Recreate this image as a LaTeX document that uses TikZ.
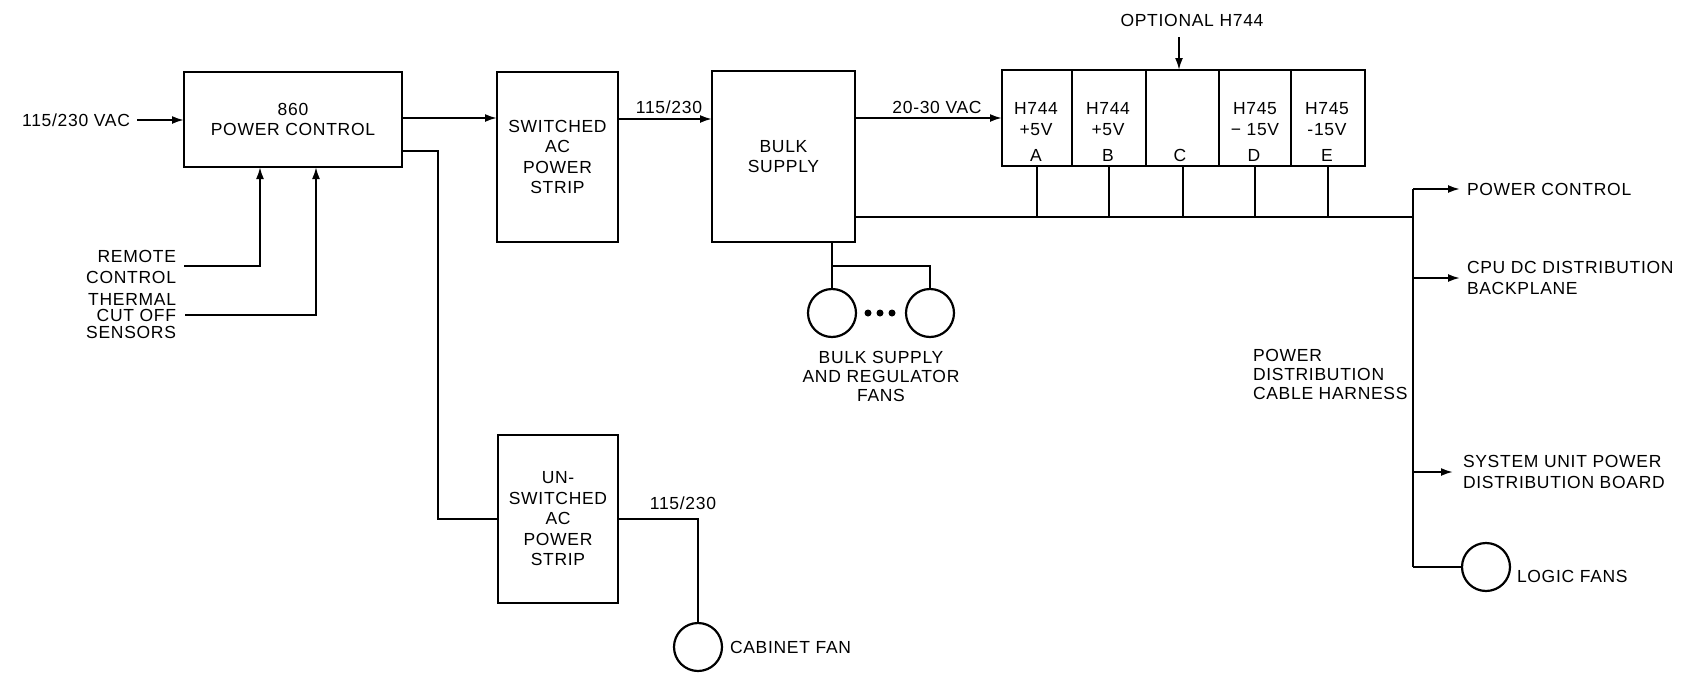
\documentclass[tikz,border=0pt]{standalone}
\usepackage{fontspec}
\setmainfont{Liberation Sans}[LetterSpace=4]
\usetikzlibrary{arrows.meta}
\begin{document}
\begin{tikzpicture}[x=1pt,y=-1pt,
  every node/.style={font=\fontsize{17.5}{20.5}\selectfont, inner sep=0pt, outer sep=0pt},
  blk/.style={draw, line width=2.8pt, rectangle, align=center},
  cell/.style={draw, line width=2.8pt, rectangle, minimum height=96pt},
  conn/.style={line width=2pt},
  arr/.style={conn, -{Latex[length=12pt,width=8pt]}},
  fan/.style={draw, circle, line width=2.2pt, minimum size=48pt},
  lbl/.style={align=center},
  tight/.style={font=\fontsize{17.5}{16.5}\selectfont},
  mid/.style={font=\fontsize{17.5}{19}\selectfont},
]
\useasboundingbox (0,0) rectangle (1705,672);

% main boxes
\node[blk, minimum width=218pt, minimum height=95pt] (pc) at (293,119.5) {860\\POWER CONTROL};
\node[blk, minimum width=121pt, minimum height=170pt] (sw) at (557.5,157) {SWITCHED\\AC\\POWER\\STRIP};
\node[blk, minimum width=143pt, minimum height=171pt] (bulk) at (783.5,156.5) {BULK\\SUPPLY};
\node[blk, minimum width=120pt, minimum height=168pt] (usw) at (558,519) {UN-\\SWITCHED\\AC\\POWER\\STRIP};

% regulator cells
\node[cell, minimum width=70pt] (cA) at (1037,118) {};
\node[cell, minimum width=74pt] (cB) at (1109,118) {};
\node[cell, minimum width=73pt] (cC) at (1182.5,118) {};
\node[cell, minimum width=72pt] (cD) at (1255,118) {};
\node[cell, minimum width=74pt] (cE) at (1328,118) {};
\node[lbl] (tA) at (1036,119) {H744\\+5V};
\node[lbl] (tB) at (1108,119) {H744\\+5V};
\node[lbl] (tD) at (1255,119) {H745\\−\ 15V};
\node[lbl] (tE) at (1327,119) {H745\\-15V};
\node (lA) at (1036,155) {A};
\node (lB) at (1108,155) {B};
\node (lC) at (1180,155) {C};
\node (lD) at (1254,155) {D};
\node (lE) at (1327,155) {E};

% input
\node[anchor=east] (vin) at (130,120) {115/230 VAC};
\draw[arr] ([xshift=7pt]vin.east) -- (pc.west |- vin.east);

% remote / thermal
\node[anchor=east, align=right] (rc) at (176,267) {REMOTE\\CONTROL};
\node[anchor=east, align=right, tight] (tc) at (176,316) {THERMAL\\CUT OFF\\SENSORS};
\coordinate (rcx) at (260,266);
\coordinate (tcx) at (316,315);
\draw[arr] ([xshift=8pt]rc.east |- rcx) -- (rcx) -- (rcx |- pc.south);
\draw[arr] ([xshift=9pt]tc.east |- tcx) -- (tcx) -- (tcx |- pc.south);

% pc -> switched
\coordinate (pcsw) at (450,118);
\draw[arr] (pc.east |- pcsw) -- (sw.west |- pcsw);
% pc -> unswitched
\coordinate (jn) at (438,151);
\draw[conn] (pc.east |- jn) -- (jn) -- (jn |- usw.west) -- (usw.west);

% switched -> bulk
\coordinate (swb) at (660,119);
\draw[arr] (sw.east |- swb) -- (bulk.west |- swb);
\node (l115a) at (669,107) {115/230};

% bulk -> regulators
\coordinate (bre) at (950,118);
\draw[arr] (bulk.east |- bre) -- (cA.west |- bre);
\node (l2030) at (937,107) {20-30 VAC};

% optional H744
\node (opt) at (1192,20) {OPTIONAL H744};
\coordinate (optc) at (1179,37);
\draw[arr] (optc) -- (optc |- cC.north);

% bus
\coordinate (hb) at (1413,217);
\draw[conn] (bulk.east |- hb) -- (hb);
\foreach \c in {cA,cB,cC,cD,cE}{
  \draw[conn] (\c.south) -- (\c.south |- hb);
}

% bulk fans
\node[fan] (f1) at (832,313) {};
\node[fan] (f2) at (930,313) {};
\fill (868,313) circle (3.5pt);
\fill (880,313) circle (3.5pt);
\fill (892,313) circle (3.5pt);
\coordinate (fj) at (832,266);
\draw[conn] (bulk.south -| f1.north) -- (f1.north);
\draw[conn] (fj) -- (f2.north |- fj) -- (f2.north);
\node[lbl, mid] (fl) at (881,376) {BULK SUPPLY\\AND REGULATOR\\FANS};

% unswitched -> cabinet fan
\node[fan] (cf) at (698,647) {};
\draw[conn] (usw.east) -- (cf.north |- usw.east) -- (cf.north);
\node (l115b) at (683,503) {115/230};
\node[anchor=west] (cfl) at (730,647) {CABINET FAN};

% harness
\coordinate (ht) at (1413,189);
\coordinate (hl) at (1413,567);
\draw[line width=2.3pt] (ht) -- (hl);
\node[anchor=west, align=left, mid] (hh) at (1253,374) {POWER\\DISTRIBUTION\\CABLE HARNESS};

\node[anchor=west] (pcl) at (1467,189) {POWER CONTROL};
\draw[arr] (ht) -- ([xshift=-7pt]pcl.west);
\node[anchor=west, align=left] (cpu) at (1467,278) {CPU DC DISTRIBUTION\\BACKPLANE};
\draw[arr] (ht |- cpu.west) -- ([xshift=-7pt]cpu.west);
\node[anchor=west, align=left] (sys) at (1463,472) {SYSTEM UNIT POWER\\DISTRIBUTION BOARD};
\draw[arr] (ht |- sys.west) -- ([xshift=-10pt]sys.west);
\node[fan] (lf) at (1486,567) {};
\draw[conn] (hl) -- (lf.west);
\node[anchor=west] (lfl) at (1517,576) {LOGIC FANS};
\end{tikzpicture}
\end{document}
